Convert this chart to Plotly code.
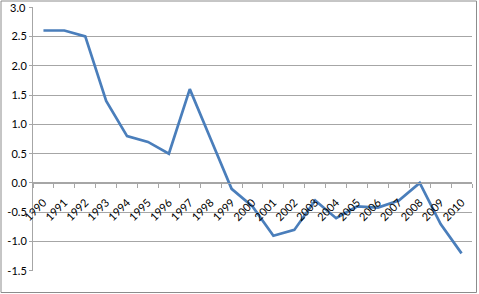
import plotly.graph_objects as go

years = [str(y) for y in range(1990, 2011)]
values = [2.6, 2.6, 2.5, 1.4, 0.8, 0.7, 0.5, 1.6, 0.75, -0.1, -0.4,
          -0.9, -0.8, -0.3, -0.6, -0.4, -0.42, -0.3, 0.0, -0.7, -1.2]
y_ticks = [3.0, 2.5, 2.0, 1.5, 1.0, 0.5, 0.0, -0.5, -1.0, -1.5]

W, H = 479, 294
L, R, T, B = 33, 7, 7, 23
pw, ph = W - L - R, H - T - B
ylo, yhi = -1.5005, 3.0005

grid = "#a6a6a6"
fig = go.Figure(go.Scatter(x=years, y=values, mode="lines",
                           line=dict(color="#4a7ebb", width=2.7)))

top = max(y_ticks)
fig.update_layout(
    width=W, height=H, margin=dict(l=L, r=R, t=T, b=B),
    paper_bgcolor="white", plot_bgcolor="white", showlegend=False,
    font=dict(family="Lato", size=11, color="black"),
    xaxis=dict(type="category", range=[-0.5, 20.5], anchor="free",
               position=(0 - ylo) / (yhi - ylo), showline=True,
               linecolor=grid, linewidth=1, ticks="outside",
               tickson="boundaries", ticklen=4, tickcolor=grid,
               tickangle=-45, showgrid=False, ticklabelstandoff=8,
               tickfont=dict(size=11)),
    yaxis=dict(range=[ylo, yhi], tickvals=y_ticks,
               ticktext=["" if v == top else f"{v:.1f}" for v in y_ticks],
               showline=True, linecolor=grid, ticks="outside", ticklen=3,
               tickcolor=grid, gridcolor=grid, gridwidth=1, zeroline=False,
               tickfont=dict(size=11)),
    annotations=[dict(x=0, xref="paper", y=top, yref="y", text=f"{top:.1f}",
                      showarrow=False, xanchor="right", yanchor="middle",
                      xshift=-5, font=dict(size=11))],
    shapes=[dict(type="rect", xref="paper", yref="paper",
                 x0=(1 - L) / pw, x1=(W - 2.5 - L) / pw,
                 y0=-(B - 1.5) / ph, y1=(ph + T - 1.0) / ph,
                 line=dict(color="#8c8c8c", width=1))],
)
fig.write_html("out.html")
